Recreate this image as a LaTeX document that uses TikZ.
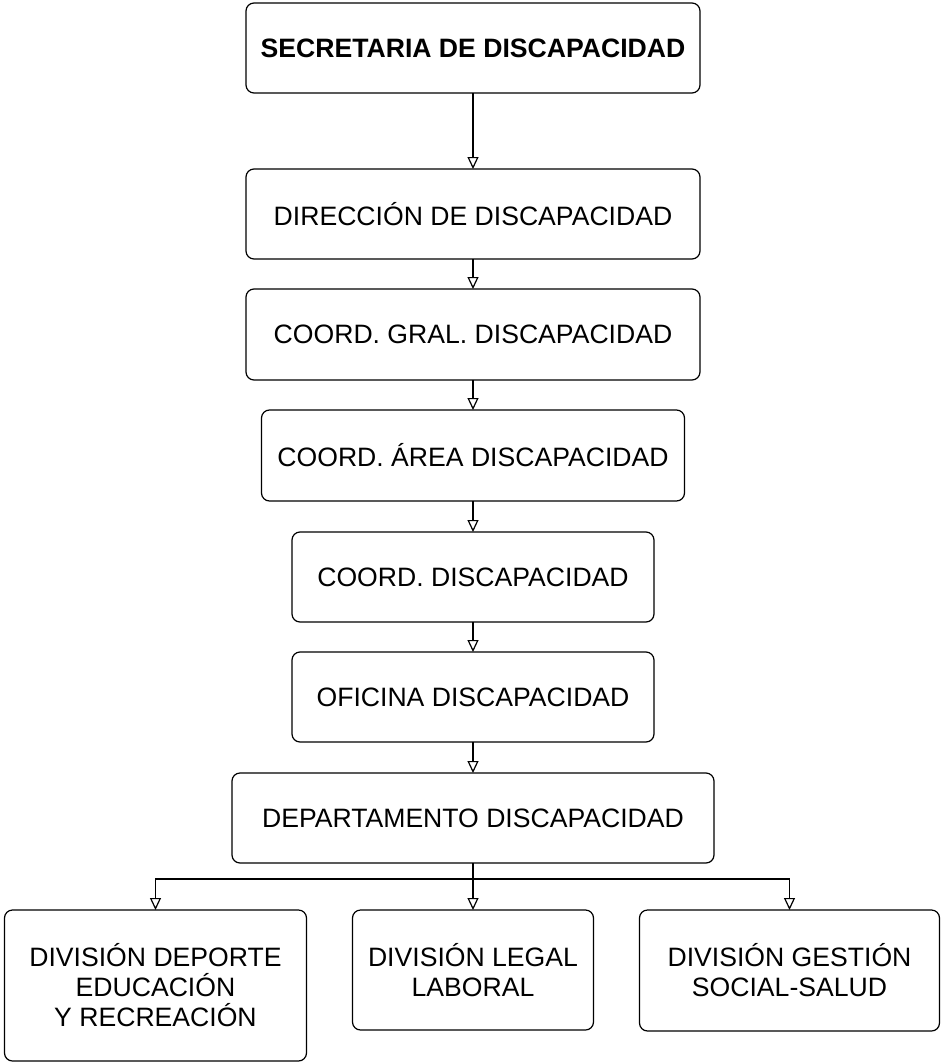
\documentclass[tikz,border=0pt]{standalone}
\usepackage{fontspec}
\setmainfont{Liberation Sans}
\usepackage{tikz}
\usetikzlibrary{positioning,arrows.meta,calc}

\begin{document}
\begin{tikzpicture}[
    unit/.style={draw, line width=1.2pt, rounded corners=8pt, align=center,
                 font=\fontsize{26.6}{30}\selectfont, minimum height=90pt,
                 inner sep=0pt, outer sep=0pt},
    link/.style={draw, line width=1.2pt,
                 -{Triangle[open, length=12pt, width=11pt]}},
]
\node[unit, minimum width=454pt, font=\fontsize{26.6}{30}\selectfont\bfseries]
    (sec) at (0,0) {SECRETARIA DE DISCAPACIDAD};
\node[unit, minimum width=454pt, below=76pt of sec] (dir)
    {DIRECCIÓN DE DISCAPACIDAD};
\node[unit, minimum width=454pt, minimum height=91pt, below=30pt of dir]
    (cgral) {COORD. GRAL. DISCAPACIDAD};
\node[unit, minimum width=423pt, minimum height=91pt, below=30pt of cgral]
    (carea) {COORD. ÁREA DISCAPACIDAD};
\node[unit, minimum width=362pt, below=31pt of carea] (coord)
    {COORD. DISCAPACIDAD};
\node[unit, minimum width=362pt, below=30pt of coord] (ofi)
    {OFICINA DISCAPACIDAD};
\node[unit, minimum width=482pt, below=31pt of ofi] (dept)
    {DEPARTAMENTO DISCAPACIDAD};

% divisiones
\node[unit, minimum width=241pt, minimum height=120pt, below=47pt of dept]
    (divleg) {DIVISIÓN LEGAL\\LABORAL};
\node[unit, minimum width=302pt, minimum height=151pt, anchor=north east]
    (divdep) at ([xshift=-46pt]divleg.north west)
    {DIVISIÓN DEPORTE\\EDUCACIÓN\\Y RECREACIÓN};
\node[unit, minimum width=300pt, minimum height=121pt, anchor=north west]
    (divsoc) at ([xshift=46pt]divleg.north east)
    {DIVISIÓN GESTIÓN\\SOCIAL-SALUD};

\draw[link] (sec) -- (dir);
\draw[link] (dir) -- (cgral);
\draw[link] (cgral) -- (carea);
\draw[link] (carea) -- (coord);
\draw[link] (coord) -- (ofi);
\draw[link] (ofi) -- (dept);

\coordinate (branch) at ([yshift=-16pt]dept.south);
\draw[link] (dept.south) -- (divleg.north);
\draw[link] (branch) -| (divdep.north);
\draw[link] (branch) -| (divsoc.north);

\useasboundingbox ([yshift=3pt, xshift=-246pt]sec.north west)
    rectangle ++(941pt,-1062pt);
\end{tikzpicture}
\end{document}
